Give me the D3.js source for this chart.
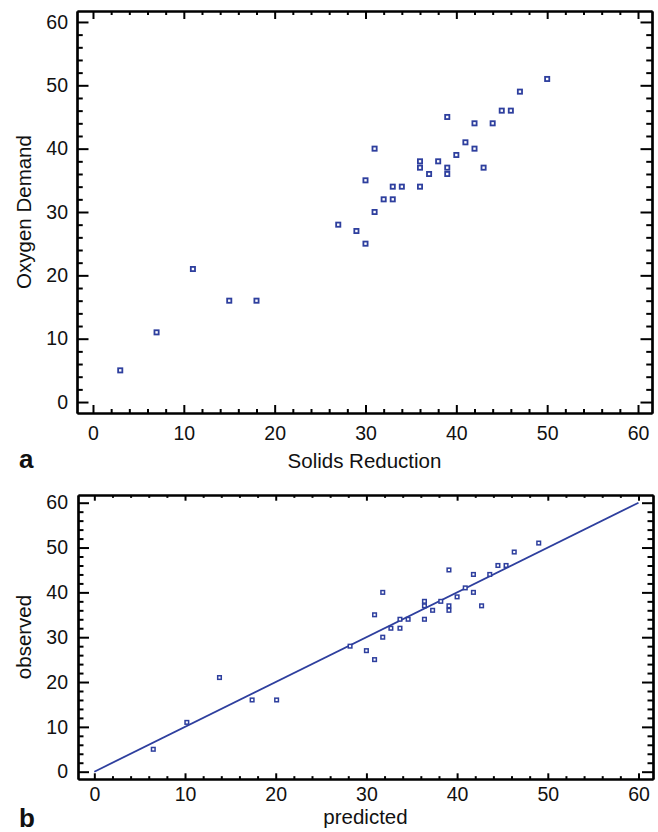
<!DOCTYPE html>
<html>
<head>
<meta charset="utf-8">
<script src="https://cdn.jsdelivr.net/npm/d3@7"></script>
<style>
  html, body { margin: 0; padding: 0; background: #fff; }
  svg { display: block; }
  text { font-family: "Liberation Sans", Arial, Helvetica, sans-serif; fill: #111; }
</style>
</head>
<body>
<svg id="chart" width="658" height="832"></svg>
<script>
// Solids reduction (%) and oxygen demand (%) for 33 waste-water samples
const solidsReduction = [3, 7, 11, 15, 18, 27, 29, 30, 30, 31, 31, 32, 33, 33, 34, 36, 36, 36,
                         37, 38, 39, 39, 39, 40, 41, 42, 42, 43, 44, 45, 46, 47, 50];
const oxygenDemand    = [5, 11, 21, 16, 16, 28, 27, 25, 35, 40, 30, 32, 32, 34, 34, 34, 37, 38,
                         36, 38, 37, 36, 45, 39, 41, 40, 44, 37, 44, 46, 46, 49, 51];
// Fitted (predicted) oxygen demand for the same samples
const predicted       = [6.5, 10.2, 13.8, 17.4, 20.1, 28.2, 30.0, 30.9, 30.9, 31.8, 31.8, 32.7,
                         33.7, 33.7, 34.6, 36.4, 36.4, 36.4, 37.3, 38.2, 39.1, 39.1, 39.1, 40.0,
                         40.9, 41.8, 41.8, 42.7, 43.6, 44.5, 45.4, 46.3, 49.0];
// Reference line observed = predicted
const refLineX = [0, 60];
const refLineY = [0, 60];
// Axis ticks
const majorTicks = [0, 10, 20, 30, 40, 50, 60];
const minorTicks = d3.range(0, 61, 2).filter(v => v % 10 !== 0);

const BLUE = "#2e3f9e";
const svg = d3.select("#chart");

function drawPanel(p) {
  const x = d3.scaleLinear().domain(p.xDomain).range([p.left, p.right]);
  const y = d3.scaleLinear().domain(p.yDomain).range([p.bottom, p.top]);
  const g = svg.append("g");

  const style = sel => {
    sel.selectAll("path.domain").attr("stroke", "#000").attr("stroke-width", 2.2);
    sel.selectAll(".tick line").attr("stroke", "#000").attr("stroke-width", 2);
  };

  // minor ticks on all four sides
  g.append("g").attr("transform", `translate(0,${p.bottom})`)
    .call(d3.axisBottom(x).tickValues(minorTicks).tickSize(-p.xTick / 2).tickFormat("").tickSizeOuter(0)).call(style);
  g.append("g").attr("transform", `translate(0,${p.top})`)
    .call(d3.axisTop(x).tickValues(minorTicks).tickSize(-p.xTick / 2).tickFormat("").tickSizeOuter(0)).call(style);
  g.append("g").attr("transform", `translate(${p.left},0)`)
    .call(d3.axisLeft(y).tickValues(minorTicks).tickSize(-p.yTick / 2).tickFormat("").tickSizeOuter(0)).call(style);
  g.append("g").attr("transform", `translate(${p.right},0)`)
    .call(d3.axisRight(y).tickValues(minorTicks).tickSize(-p.yTick / 2).tickFormat("").tickSizeOuter(0)).call(style);

  // major ticks with labels on bottom and left
  const bx = g.append("g").attr("transform", `translate(0,${p.bottom})`)
    .call(d3.axisBottom(x).tickValues(majorTicks).tickSize(-p.xTick).tickPadding(p.bottomPad).tickSizeOuter(0)).call(style);
  g.append("g").attr("transform", `translate(0,${p.top})`)
    .call(d3.axisTop(x).tickValues(majorTicks).tickSize(-p.xTick).tickFormat("").tickSizeOuter(0)).call(style);
  const ly = g.append("g").attr("transform", `translate(${p.left},0)`)
    .call(d3.axisLeft(y).tickValues(majorTicks).tickSize(-p.yTick).tickPadding(p.leftPad).tickSizeOuter(0)).call(style);
  g.append("g").attr("transform", `translate(${p.right},0)`)
    .call(d3.axisRight(y).tickValues(majorTicks).tickSize(-p.yTick).tickFormat("").tickSizeOuter(0)).call(style);

  [bx, ly].forEach(a => {
    a.attr("font-size", null).attr("font-family", null);
    a.selectAll("text")
      .attr("font-size", 19.5).attr("fill", "#111")
      .attr("font-family", "'Liberation Sans', Arial, Helvetica, sans-serif");
  });

  // reference line
  if (p.line) {
    g.append("path")
      .datum(d3.zip(p.line[0], p.line[1]))
      .attr("fill", "none").attr("stroke", BLUE).attr("stroke-width", 1.8)
      .attr("d", d3.line().x(d => x(d[0])).y(d => y(d[1])));
  }

  // points
  g.append("g").selectAll("rect")
    .data(d3.zip(p.xs, p.ys))
    .join("rect")
    .attr("x", d => x(d[0]) - p.mark / 2)
    .attr("y", d => y(d[1]) - p.mark / 2)
    .attr("width", p.mark).attr("height", p.mark)
    .attr("fill", "#fff").attr("stroke", BLUE).attr("stroke-width", p.markStroke);

  // axis titles
  g.append("text")
    .attr("x", (p.left + p.right) / 2).attr("y", p.xTitleY)
    .attr("text-anchor", "middle").attr("font-size", 20.5)
    .text(p.xTitle);
  g.append("text")
    .attr("transform", `translate(31,${(p.top + p.bottom) / 2}) rotate(-90)`)
    .attr("text-anchor", "middle").attr("font-size", 20.5)
    .text(p.yTitle);

  // panel letter
  g.append("text")
    .attr("x", 19).attr("y", p.letterY)
    .attr("font-size", 26).attr("font-weight", "bold")
    .text(p.letter);
}

drawPanel({
  left: 77, right: 652, top: 11, bottom: 413,
  xDomain: [-1.76, 61.54], yDomain: [-1.73, 61.73],
  xTick: 8, yTick: 11.5, bottomPad: 13, leftPad: 9,
  xs: solidsReduction, ys: oxygenDemand,
  mark: 4.2, markStroke: 1.8,
  xTitle: "Solids Reduction", yTitle: "Oxygen Demand", xTitleY: 468,
  letter: "a", letterY: 468
});

drawPanel({
  left: 78, right: 653, top: 495, bottom: 779,
  xDomain: [-1.8, 61.6], yDomain: [-1.63, 61.72],
  xTick: 5.7, yTick: 11, bottomPad: 8, leftPad: 10,
  xs: predicted, ys: oxygenDemand, line: [refLineX, refLineY],
  mark: 3.6, markStroke: 1.5,
  xTitle: "predicted", yTitle: "observed", xTitleY: 824,
  letter: "b", letterY: 827
});
</script>
</body>
</html>
